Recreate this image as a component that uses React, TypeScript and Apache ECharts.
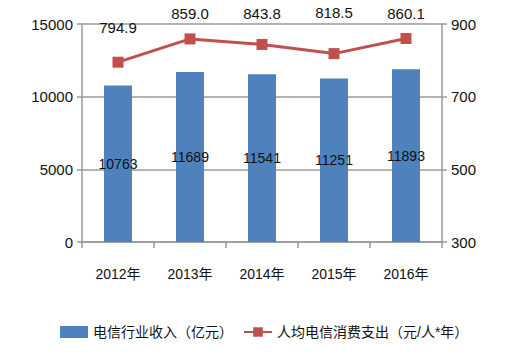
import React, { useEffect, useRef } from "react";
import * as echarts from "echarts";

const categories = ["2012年", "2013年", "2014年", "2015年", "2016年"];
const revenue = [10763, 11689, 11541, 11251, 11893];
const perCapita = [794.9, 859.0, 843.8, 818.5, 860.1];
const revenueName = "电信行业收入（亿元）";
const perCapitaName = "人均电信消费支出（元/人*年）";
const lineLabelDistance = [22, 12, 18, 28, 12];

const FONT = "'Liberation Sans', 'Noto Sans CJK SC', sans-serif";
const CJK = "'Liberation Sans', 'Noto Sans CJK SC', sans-serif";

export default function App() {
  const ref = useRef<HTMLDivElement>(null);
  useEffect(() => {
    document.body.style.margin = "0";
    if (!ref.current) return;
    const chart = echarts.init(ref.current, null, { renderer: "svg" });
    chart.setOption({
      animation: false,
      backgroundColor: "#ffffff",
      grid: { left: 82, right: 78, top: 24, bottom: 112 },
      legend: {
        left: 55,
        top: 320,
        itemWidth: 28,
        itemHeight: 12,
        itemGap: 10,
        textStyle: { fontFamily: CJK, fontSize: 14, color: "#111" },
        data: [
          { name: revenueName, icon: "rect" },
          { name: perCapitaName },
        ],
      },
      xAxis: {
        type: "category",
        data: categories,
        axisLine: { lineStyle: { color: "#9a9a9a", width: 1.5 } },
        axisTick: { show: true, length: 6, lineStyle: { color: "#9a9a9a", width: 1.5 } },
        axisLabel: { fontFamily: CJK, fontSize: 14, color: "#111", margin: 25 },
      },
      yAxis: [
        {
          type: "value",
          min: 0,
          max: 15000,
          interval: 5000,
          axisLine: { show: true, lineStyle: { color: "#9a9a9a", width: 1.5 } },
          axisTick: { show: true, length: 5, lineStyle: { color: "#9a9a9a", width: 1.5 } },
          splitLine: { lineStyle: { color: "#9a9a9a", width: 1.5 } },
          axisLabel: {
            fontFamily: FONT,
            fontSize: 15,
            color: "#111",
            margin: 9,
            formatter: (v: number) => String(v),
          },
        },
        {
          type: "value",
          min: 300,
          max: 900,
          interval: 200,
          position: "right",
          axisLine: { show: true, lineStyle: { color: "#9a9a9a", width: 1.5 } },
          axisTick: { show: true, length: 5, lineStyle: { color: "#9a9a9a", width: 1.5 } },
          splitLine: { show: false },
          axisLabel: {
            fontFamily: FONT,
            fontSize: 15,
            color: "#111",
            margin: 9,
            formatter: (v: number) => String(v),
          },
        },
      ],
      series: [
        {
          name: revenueName,
          type: "bar",
          data: revenue,
          barWidth: 28,
          itemStyle: { color: "#4f81bd" },
          label: {
            show: true,
            position: "inside",
            fontFamily: FONT,
            fontSize: 14,
            color: "#111",
          },
        },
        {
          name: perCapitaName,
          type: "line",
          yAxisIndex: 1,
          data: perCapita.map((v, i) => ({
            value: v,
            label: { distance: lineLabelDistance[i] },
          })),
          symbol: "rect",
          symbolSize: 11,
          lineStyle: { color: "#c0504d", width: 3 },
          itemStyle: { color: "#c0504d" },
          label: {
            show: true,
            position: "top",
            fontFamily: FONT,
            fontSize: 15,
            color: "#111",
            formatter: (p: any) => Number(p.value).toFixed(1),
          },
        },
      ],
    });
    return () => chart.dispose();
  }, []);
  return <div ref={ref} style={{ width: 520, height: 354 }} />;
}
